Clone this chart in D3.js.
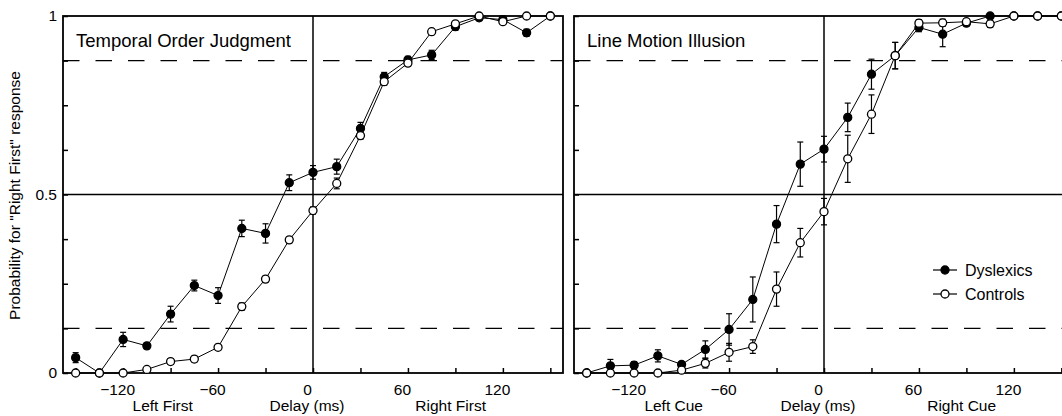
<!DOCTYPE html>
<html>
<head>
<meta charset="utf-8">
<script src="https://cdn.jsdelivr.net/npm/d3@7"></script>
<style>
  body { margin: 0; background: #fff; }
  svg { display: block; font-family: 'Liberation Sans', Arial, Helvetica, sans-serif; }
</style>
</head>
<body>
<div id="chart"></div>
<script>
var width = 1062,
    height = 416;

// delays in ms, one point every 15 ms
var delays = [-150, -135, -120, -105, -90, -75, -60, -45, -30, -15, 0, 15, 30, 45, 60, 75, 90, 105, 120, 135, 150];

// Temporal Order Judgment
var tojDys    = [0.043, 0.0, 0.094, 0.076, 0.165, 0.245, 0.217, 0.405, 0.391, 0.533, 0.562, 0.578, 0.685, 0.83, 0.877, 0.891, 0.97, 0.995, 0.99, 0.953, 1.0];
var tojDysErr = [0.014, 0, 0.02, 0.008, 0.022, 0.015, 0.022, 0.023, 0.027, 0.022, 0.019, 0.021, 0.017, 0.012, 0.01, 0.013, 0.01, 0.008, 0.01, 0.01, 0];
var tojCon    = [0, 0, 0, 0.01, 0.032, 0.039, 0.072, 0.186, 0.263, 0.373, 0.455, 0.531, 0.665, 0.816, 0.868, 0.956, 0.978, 1.0, 0.984, 1.0, 1.0];
var tojConErr = [0, 0, 0, 0.005, 0.008, 0.008, 0.008, 0.01, 0.008, 0.008, 0.01, 0.015, 0.01, 0.01, 0.008, 0.008, 0.005, 0, 0.005, 0, 0];

// Line Motion Illusion
var lmiDys    = [0.0, 0.02, 0.022, 0.048, 0.024, 0.066, 0.122, 0.206, 0.417, 0.585, 0.627, 0.716, 0.837, 0.889, 0.968, 0.949, 0.98, 1.0, 1.0, 1.0, 1.0];
var lmiDysErr = [0, 0.018, 0.01, 0.017, 0.008, 0.024, 0.044, 0.063, 0.052, 0.062, 0.036, 0.04, 0.042, 0.037, 0.012, 0.035, 0.008, 0, 0, 0, 0];
var lmiCon    = [0, 0, 0, 0, 0.008, 0.027, 0.058, 0.074, 0.235, 0.365, 0.452, 0.6, 0.725, 0.889, 0.98, 0.981, 0.984, 0.978, 1.0, 1.0, 1.0];
var lmiConErr = [0, 0, 0, 0, 0.005, 0.013, 0.025, 0.019, 0.048, 0.04, 0.037, 0.066, 0.054, 0.037, 0.01, 0.01, 0.008, 0.01, 0, 0, 0];

var xTicks = [-150, -120, -90, -60, -30, 0, 30, 60, 90, 120, 150];
var xLabels = [-120, -60, 0, 60, 120];
var yTicks = [0, 0.125, 0.25, 0.375, 0.5, 0.625, 0.75, 0.875, 1];
var yLabels = [0, 0.5, 1];
var criteria = [0.125, 0.875];

var legendNames = ['Dyslexics', 'Controls'];

var svg = d3.select('#chart').append('svg')
    .attr('width', width)
    .attr('height', height);

var top_y = 16,
    bottom_y = 373,
    panel_w = 500;

function fmtTick(d) {
    if (d < 0) return '\u2212' + Math.abs(d);
    return '' + d;
}

function drawPanel(opts) {
    var g = svg.append('g');
    var x = d3.scaleLinear().domain([-158, 158]).range([opts.left, opts.left + panel_w]);
    var y = d3.scaleLinear().domain([0, 1]).range([bottom_y, top_y]);

    // criterion lines
    g.selectAll('.crit')
        .data(criteria)
        .enter().append('line')
        .attr('x1', x(-158)).attr('x2', x(158))
        .attr('y1', y).attr('y2', y)
        .style('stroke', '#000')
        .style('stroke-width', 1.3)
        .style('stroke-dasharray', '16.5,16');

    // reference lines at 0.5 and 0 ms
    g.append('line')
        .attr('x1', x(-158)).attr('x2', x(158))
        .attr('y1', y(0.5)).attr('y2', y(0.5))
        .style('stroke', '#000').style('stroke-width', 1.5);
    g.append('line')
        .attr('x1', x(0)).attr('x2', x(0))
        .attr('y1', y(0)).attr('y2', y(1))
        .style('stroke', '#000').style('stroke-width', 1.5);

    // axes with inward ticks
    var xAxis = d3.axisBottom(x)
        .tickValues(xTicks)
        .tickSize(-5)
        .tickPadding(11)
        .tickFormat(function(d) { return xLabels.indexOf(d) >= 0 ? fmtTick(d) : ''; });
    var gx = g.append('g')
        .attr('transform', 'translate(0,' + bottom_y + ')')
        .call(xAxis);
    gx.select('.domain').remove();
    gx.selectAll('line').style('stroke-width', 1.5);
    gx.selectAll('text')
        .attr('dx', -6)
        .style('font-size', '15.5px')
        .style('fill', '#000');

    var yAxis = d3.axisLeft(y)
        .tickValues(yTicks)
        .tickSize(-5)
        .tickPadding(6)
        .tickFormat(function(d) { return (opts.yText && yLabels.indexOf(d) >= 0) ? d3.format('')(d) : ''; });
    var gy = g.append('g')
        .attr('transform', 'translate(' + opts.left + ',0)')
        .call(yAxis);
    gy.select('.domain').remove();
    gy.selectAll('line').style('stroke-width', 1.5);
    gy.selectAll('text')
        .style('font-size', '15.5px')
        .style('fill', '#000');

    // frame
    g.append('rect')
        .attr('x', opts.left).attr('y', top_y)
        .attr('width', panel_w).attr('height', bottom_y - top_y)
        .style('fill', 'none')
        .style('stroke', '#000')
        .style('stroke-width', 1.8);

    // title
    g.append('text')
        .attr('x', opts.left + 13)
        .attr('y', 46.5)
        .text(opts.title)
        .style('font-size', '18.5px');

    // sub labels under x axis
    var subs = [[opts.subL, -95, 0], ['Delay (ms)', 0, -6], [opts.subR, 87, 0]];
    g.selectAll('.sub')
        .data(subs)
        .enter().append('text')
        .attr('x', function(d) { return x(d[1]) + d[2]; })
        .attr('y', 411)
        .attr('text-anchor', 'middle')
        .text(function(d) { return d[0]; })
        .style('font-size', '15.5px');

    // series: dyslexics (filled) below, controls (open) on top
    var series = [
        { vals: opts.dys, err: opts.dysErr, fill: '#000' },
        { vals: opts.con, err: opts.conErr, fill: '#fff' }
    ];
    var line = d3.line()
        .x(function(d) { return x(d.t); })
        .y(function(d) { return y(d.v); });

    series.forEach(function(s) {
        var pts = delays.map(function(t, i) { return { t: t, v: s.vals[i], e: s.err[i] }; });
        var sg = g.append('g');

        sg.append('path')
            .attr('d', line(pts))
            .style('fill', 'none')
            .style('stroke', '#000')
            .style('stroke-width', 1);

        var eb = sg.selectAll('.eb')
            .data(pts.filter(function(d) { return d.e > 0; }))
            .enter().append('g');
        eb.append('line')
            .attr('x1', function(d) { return x(d.t); })
            .attr('x2', function(d) { return x(d.t); })
            .attr('y1', function(d) { return y(d.v - d.e); })
            .attr('y2', function(d) { return y(d.v + d.e); })
            .style('stroke', '#000').style('stroke-width', 1.2);
        [-1, 1].forEach(function(sgn) {
            eb.append('line')
                .attr('x1', function(d) { return x(d.t) - 3; })
                .attr('x2', function(d) { return x(d.t) + 3; })
                .attr('y1', function(d) { return y(d.v + sgn * d.e); })
                .attr('y2', function(d) { return y(d.v + sgn * d.e); })
                .style('stroke', '#000').style('stroke-width', 1.2);
        });

        sg.selectAll('circle')
            .data(pts)
            .enter().append('circle')
            .attr('cx', function(d) { return x(d.t); })
            .attr('cy', function(d) { return y(d.v); })
            .attr('r', 4)
            .style('fill', s.fill)
            .style('stroke', '#000')
            .style('stroke-width', 1.3);
    });

    return { x: x, y: y };
}

drawPanel({
    left: 63, title: 'Temporal Order Judgment', subL: 'Left First', subR: 'Right First', yText: true,
    dys: tojDys, dysErr: tojDysErr, con: tojCon, conErr: tojConErr
});
drawPanel({
    left: 574, title: 'Line Motion Illusion', subL: 'Left Cue', subR: 'Right Cue', yText: false,
    dys: lmiDys, dysErr: lmiDysErr, con: lmiCon, conErr: lmiConErr
});

// y axis title
svg.append('text')
    .attr('transform', 'translate(20,195.5) rotate(-90)')
    .attr('text-anchor', 'middle')
    .text('Probability for "Right First" response')
    .style('font-size', '15.5px');

// legend
var legend = svg.append('g')
    .selectAll('g')
    .data(legendNames)
    .enter().append('g')
    .attr('transform', function(d, i) { return 'translate(945,' + (270 + i * 24) + ')'; });
legend.append('line')
    .attr('x1', -12).attr('x2', 12)
    .style('stroke', '#000').style('stroke-width', 1.2);
legend.append('circle')
    .attr('r', 4)
    .style('fill', function(d, i) { return i == 0 ? '#000' : '#fff'; })
    .style('stroke', '#000')
    .style('stroke-width', 1.3);
legend.append('text')
    .attr('x', 20)
    .attr('y', 5.5)
    .text(function(d) { return d; })
    .style('font-size', '16px');
</script>
</body>
</html>
